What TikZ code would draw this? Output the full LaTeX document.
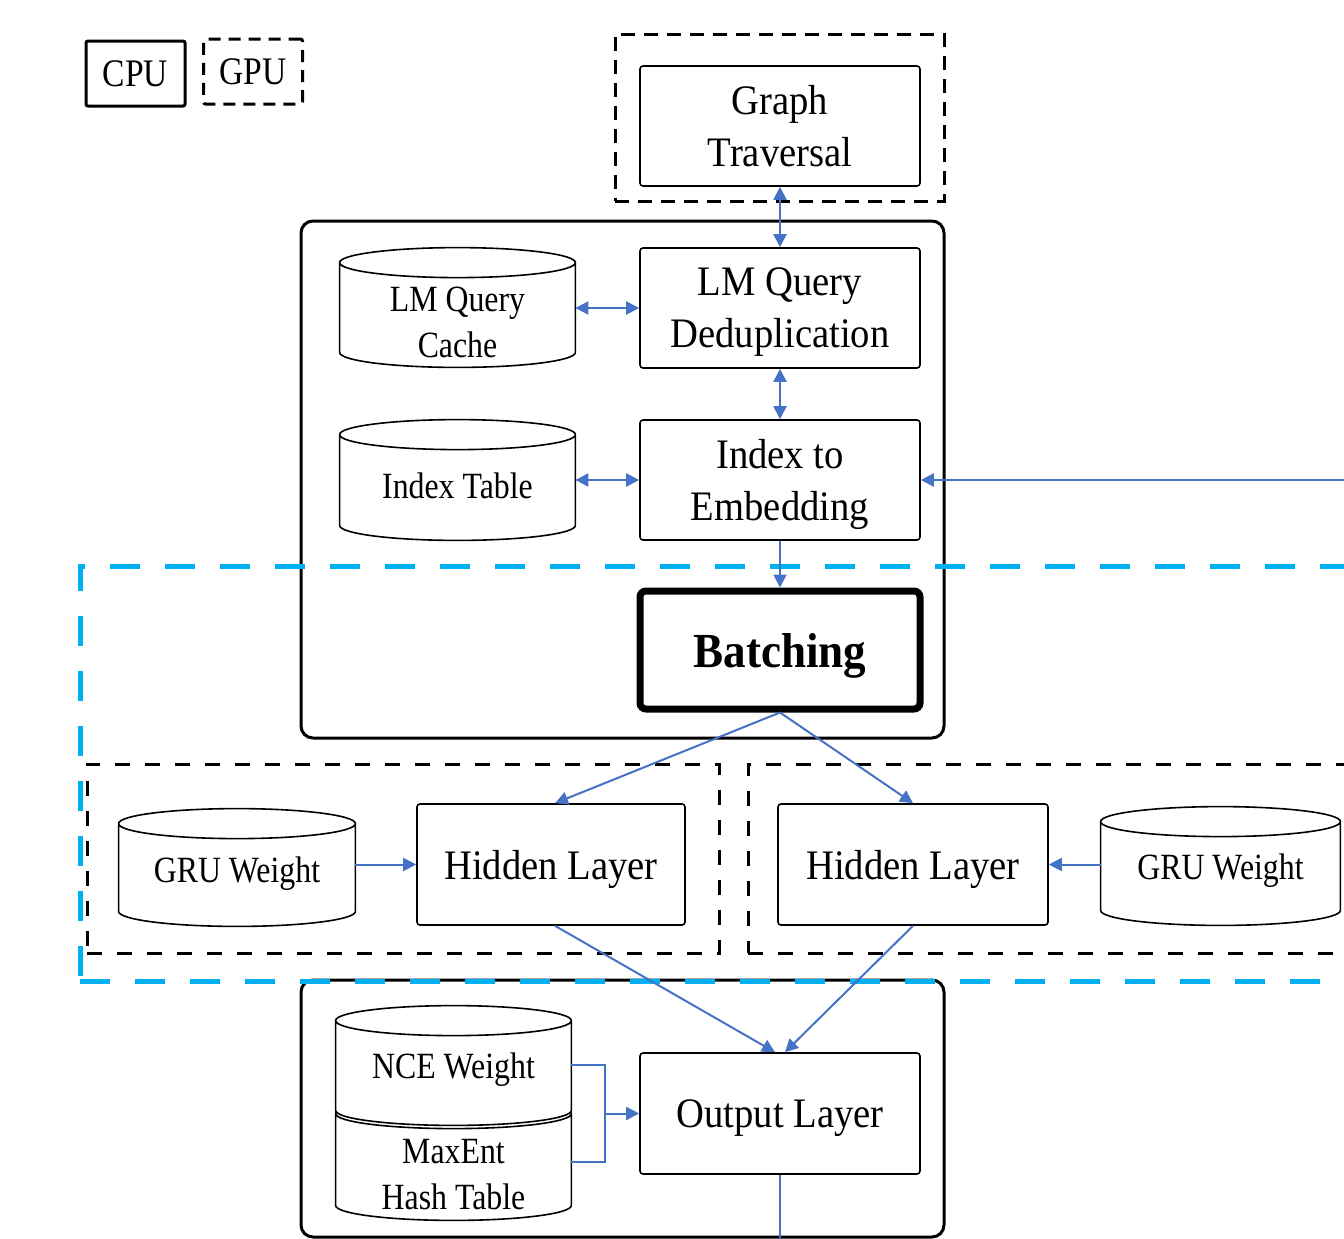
\documentclass[tikz,border=0pt]{standalone}
\usepackage{fontspec}
\setmainfont{Liberation Serif}
\newfontfamily\boxfont[FakeStretch=0.92]{Liberation Serif}
\newfontfamily\cylfont[FakeStretch=0.86]{Liberation Serif}
\usetikzlibrary{arrows.meta,calc,backgrounds}
\definecolor{arrowblue}{HTML}{4472C4}
\definecolor{gpublue}{HTML}{00B0F0}
\def\cylry{7.5pt}
\newcommand{\drawcyl}[2][0pt]{%
  \draw[cylline, fill=white] let \p1=(#2.north west), \p2=(#2.south east), \n1={(\x2-\x1)/2} in
    (\x1,\y1+\cylry) -- (\x1,\y2-#1+\cylry)
    arc[start angle=180,end angle=360,x radius=\n1,y radius=\cylry]
    -- (\x2,\y1+\cylry)
    arc[start angle=0,end angle=180,x radius=\n1,y radius=\cylry] -- cycle
    (\x1,\y1+\cylry) arc[start angle=180,end angle=360,x radius=\n1,y radius=\cylry];
}
\begin{document}
\begin{tikzpicture}[x=0.5pt,y=-0.5pt,
  >={Triangle[length=6.5pt,width=6.5pt]},
  box/.style={draw, line width=0.8pt, rounded corners=1.5pt, minimum width=140pt, minimum height=60pt, inner sep=0pt, text depth=0pt, align=center, font=\boxfont\fontsize{21}{26}\selectfont},
  cylbody/.style={inner sep=0pt, align=center, font=\cylfont\fontsize{18.5}{23}\selectfont},
  cylline/.style={draw, line width=0.8pt},
  conn/.style={draw=arrowblue, line width=1pt},
  cpubox/.style={draw, line width=1.5pt, rounded corners=6pt},
  gpubox/.style={draw, line width=1.5pt, dash pattern=on 7.5pt off 7.5pt},
  gpuarea/.style={draw=gpublue, line width=2.5pt, dash pattern=on 15pt off 12.5pt},
  legend/.style={line width=1.5pt, rounded corners=1pt, minimum width=49.5pt, minimum height=32.5pt, inner sep=0pt, font=\cylfont\fontsize{19.5}{23}\selectfont},
]
\useasboundingbox (0,0) rectangle (1344,1238);

% legend
\node[legend, draw] (cpuleg) at (135.5,73.5) {CPU};
\node[legend, draw, dash pattern=on 6pt off 4pt] (gpuleg) at (253,71.5) {GPU};

% containers
\node[draw, line width=1.5pt, dash pattern=on 7pt off 4.5pt, minimum width=164.5pt, minimum height=83.5pt] (gpugt) at (779.5,117.5) {};
\node[cpubox, minimum width=321.5pt, minimum height=258.5pt] (cpu1) at (622.5,479.5) {};
\node[cpubox, minimum width=321.5pt, minimum height=128.5pt] (cpu2) at (622.5,1108.5) {};
\node[gpubox, minimum width=316pt, minimum height=94.5pt] (gpuL) at (403,858.5) {};
\node[gpubox, minimum width=306pt, minimum height=94.5pt] (gpuR) at (1054,858.5) {};
\node[gpuarea, minimum width=640pt, minimum height=207.5pt] (gpuarea) at (720,773.5) {};

% boxes
\node[box] (graph) at (780,126) {Graph\\Traversal};
\node[box] (dedup) at (780,308) {LM Query\\Deduplication};
\node[box] (idx2emb) at (780,480) {Index to\\Embedding};
\node[box, line width=3.5pt, rounded corners=3pt, minimum height=59pt, font=\boxfont\bfseries\fontsize{24.5}{30}\selectfont] (batch) at (780,650) {Batching};
\node[box, minimum width=134pt, minimum height=60.5pt] (hidL) at (551,864.5) {Hidden Layer};
\node[box, minimum width=135pt, minimum height=60.5pt] (hidR) at (913,864.5) {Hidden Layer};
\node[box, minimum height=60.5pt] (output) at (780,1113.5) {Output Layer};

% cylinder bodies
\node[cylbody, minimum width=117.5pt, minimum height=44.5pt] (cache) at (457.5,322.5) {LM Query\\Cache};
\node[cylbody, minimum width=117.5pt, minimum height=36pt] (idxtab) at (457.5,486) {Index Table};
\node[cylbody, minimum width=118pt, minimum height=35pt] (gruL) at (237,874) {GRU Weight};
\node[cylbody, minimum width=119.5pt, minimum height=34pt] (gruR) at (1220.5,871) {GRU Weight};
\node[cylbody, minimum width=117.5pt, minimum height=34pt] (nce) at (453.5,1070) {NCE Weight};
\node[cylbody, minimum width=117.5pt, minimum height=45.5pt] (maxent) at (453.5,1174.5) {MaxEnt\\Hash Table};

\begin{pgfonlayer}{background}
  \drawcyl{cache}
  \drawcyl[9pt]{idxtab}
  \drawcyl[8.5pt]{gruL}
  \drawcyl[10pt]{gruR}
  \drawcyl{maxent}
  \drawcyl[10.5pt]{nce}
\end{pgfonlayer}

% helper coordinates
\coordinate (ncep) at (571,1065);
\coordinate (maxp) at (571,1162);
\coordinate (brk) at (605,1113.5);
\coordinate (rin) at (1344,480);
\coordinate (outd) at (780,1240);

% connectors
\draw[conn,<->] (graph.south) -- (dedup.north);
\draw[conn,<->] (cache.east |- dedup.west) -- (dedup.west);
\draw[conn,<->] (dedup.south) -- (idx2emb.north);
\draw[conn,<->] (idxtab.east |- idx2emb.west) -- (idx2emb.west);
\draw[conn,->] (idx2emb.south) -- (batch.north);
\draw[conn,->] (batch.south) -- ([xshift=2pt]hidL.north);
\draw[conn,->] (batch.south) -- (hidR.north);
\draw[conn,->] (gruL.east |- hidL.west) -- (hidL.west);
\draw[conn,->] (gruR.west |- hidR.east) -- (hidR.east);
\draw[conn,->] ([xshift=2pt]hidL.south) -- ([xshift=-2.5pt]output.north);
\draw[conn,->] (hidR.south) -- ([xshift=2.5pt]output.north);
\draw[conn] (ncep) -| (brk) |- (maxp);
\draw[conn,->] (brk) -- (output.west);
\draw[conn,->] (rin) -- (idx2emb.east);
\draw[conn] (output.south) -- (outd);
\end{tikzpicture}
\end{document}
